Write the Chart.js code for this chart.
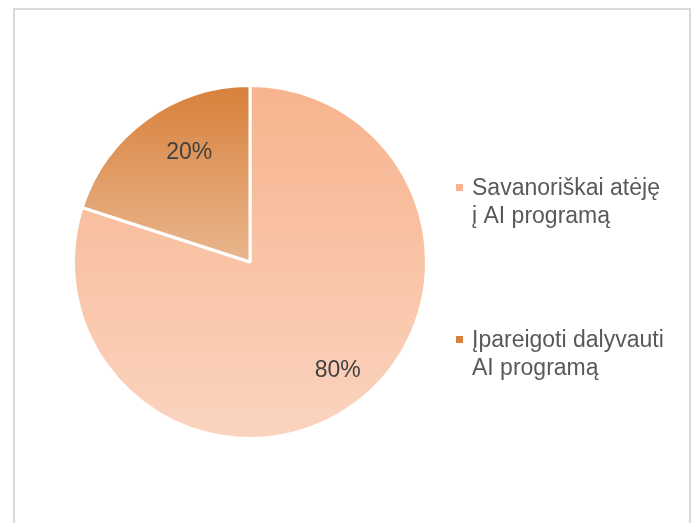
<!DOCTYPE html>
<html>
<head>
<meta charset="utf-8">
<script src="https://cdn.jsdelivr.net/npm/chart.js@4/dist/chart.umd.min.js"></script>
<style>
  html, body { margin: 0; padding: 0; background: #fff; }
  #wrap { position: relative; width: 699px; height: 523px; }
  #frame {
    position: absolute; left: 13px; top: 8px; width: 678px; height: 530px;
    border: 2px solid #d9d9d9; box-sizing: border-box;
  }
  canvas { position: absolute; left: 0; top: 0; }
</style>
</head>
<body>
<div id="wrap">
  <div id="frame"></div>
  <canvas id="pieChart" width="699" height="523"></canvas>
</div>
<script>
// Pie data
const categories = [
  ["Savanoriškai atėję", "į AI programą"],
  ["Įpareigoti dalyvauti", "AI programą"]
];
const shares = [80, 20];

// gradient stops per slice (top, bottom)
const sliceColors = [
  ["#f7b38d", "#fbd4bf"],
  ["#d8803a", "#e9b68e"]
];
// small nudges for the % labels
const labelNudge = [[13, 6], [14, -7]];

function sliceGradient(ctx) {
  const chart = ctx.chart;
  const area = chart.chartArea;
  if (!area) return sliceColors[ctx.dataIndex][0];
  const top = area.top;
  const mid = (area.top + area.bottom) / 2;
  // the small slice only reaches down to the centre
  const bottom = ctx.dataIndex === 1 ? mid : area.bottom;
  const g = chart.ctx.createLinearGradient(0, top, 0, bottom);
  g.addColorStop(0, sliceColors[ctx.dataIndex][0]);
  g.addColorStop(1, sliceColors[ctx.dataIndex][1]);
  return g;
}

// percent labels inside slices
const sliceLabels = {
  id: "sliceLabels",
  afterDatasetsDraw(chart) {
    const c = chart.ctx;
    const total = shares.reduce((a, b) => a + b, 0);
    c.save();
    c.font = "23px 'Liberation Sans', Arial, sans-serif";
    c.fillStyle = "#404040";
    c.textAlign = "center";
    c.textBaseline = "middle";
    chart.getDatasetMeta(0).data.forEach((arc, i) => {
      const mid = (arc.startAngle + arc.endAngle) / 2;
      const d = arc.outerRadius * 0.72;
      const x = arc.x + Math.cos(mid) * d + labelNudge[i][0];
      const y = arc.y + Math.sin(mid) * d + labelNudge[i][1];
      c.fillText(Math.round(shares[i] / total * 100) + "%", x, y);
    });
    c.restore();
  }
};

// legend on the right, multi-line entries
const sideLegend = {
  id: "sideLegend",
  afterDraw(chart) {
    const c = chart.ctx;
    const x0 = 456, tx = 472, lineH = 28;
    const rows = [189, 341];
    c.save();
    c.font = "23px 'Liberation Sans', Arial, sans-serif";
    c.textBaseline = "middle";
    c.textAlign = "left";
    categories.forEach((lines, i) => {
      c.fillStyle = sliceColors[i][0];
      c.fillRect(x0, rows[i] - 5, 7, 7);
      c.fillStyle = "#595959";
      lines.forEach((t, j) => c.fillText(t, tx, rows[i] + j * lineH));
    });
    c.restore();
  }
};

new Chart("pieChart", {
  type: "pie",
  data: {
    labels: categories,
    datasets: [{
      data: shares,
      backgroundColor: sliceGradient,
      borderColor: "#ffffff",
      borderWidth: 3
    }]
  },
  options: {
    responsive: false,
    animation: false,
    layout: { padding: { left: 72, right: 271, top: 84, bottom: 83 } },
    plugins: {
      legend: { display: false },
      tooltip: { enabled: false }
    }
  },
  plugins: [sliceLabels, sideLegend]
});
</script>
</body>
</html>
